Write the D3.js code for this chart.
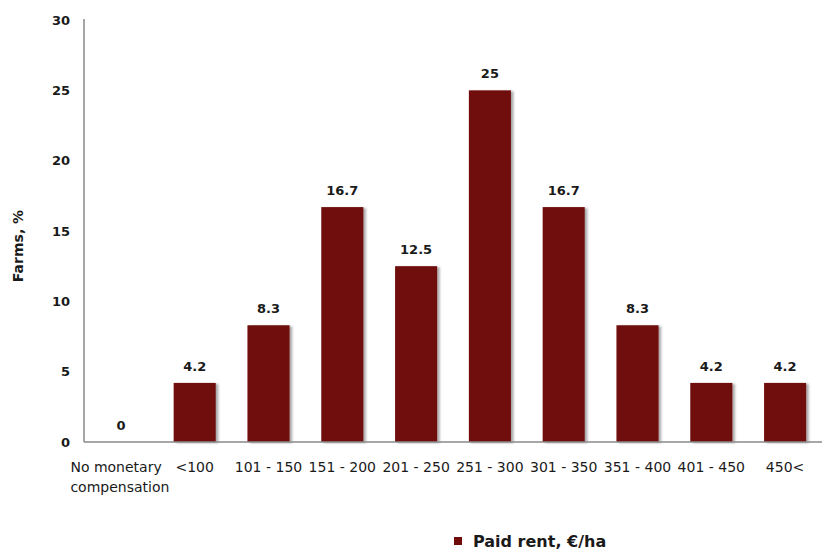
<!DOCTYPE html>
<html>
<head>
<meta charset="utf-8">
<script src="https://cdn.jsdelivr.net/npm/d3@7"></script>
<style>
  html, body { margin: 0; padding: 0; background: #fff; }
  svg { display: block; }
  text { font-family: "DejaVu Sans", Verdana, sans-serif; fill: #1a1a1a; }
</style>
</head>
<body>
<svg id="chart" width="824" height="553"></svg>
<script>
// Share of farms by rent paid per hectare
const categories = ["No monetary\ncompensation", "<100", "101 - 150", "151 - 200", "201 - 250",
                    "251 - 300", "301 - 350", "351 - 400", "401 - 450", "450<"];
const values = [0, 4.2, 8.3, 16.7, 12.5, 25, 16.7, 8.3, 4.2, 4.2];
const valueLabels = ["0", "4.2", "8.3", "16.7", "12.5", "25", "16.7", "8.3", "4.2", "4.2"];
const yTicks = [0, 5, 10, 15, 20, 25, 30];
const seriesName = "Paid rent, €/ha";
const yTitle = "Farms, %";

const svg = d3.select("#chart");
const plotLeft = 84, plotRight = 822, plotTop = 20, plotBottom = 442;
const barColor = "#700b0b";
const axisColor = "#8a8a8a";

const x = d3.scaleBand().domain(d3.range(categories.length)).range([plotLeft, plotRight]).paddingInner(0.43).paddingOuter(0.215);
const y = d3.scaleLinear().domain([0, 30]).range([plotBottom, plotTop]);

// soft drop shadow for the bars
const defs = svg.append("defs");
const f = defs.append("filter").attr("id", "shadow").attr("x", "-20%").attr("y", "-10%").attr("width", "150%").attr("height", "130%");
f.append("feDropShadow").attr("dx", 2.5).attr("dy", 1).attr("stdDeviation", 1.2)
  .attr("flood-color", "#000").attr("flood-opacity", 0.35);

// bars
svg.append("g").selectAll("rect").data(values).join("rect")
  .attr("x", (d, i) => x(i))
  .attr("y", d => y(d))
  .attr("width", x.bandwidth())
  .attr("height", d => plotBottom - y(d))
  .attr("fill", barColor)
  .attr("filter", d => d > 0 ? "url(#shadow)" : null);

// value labels
svg.append("g").selectAll("text").data(values).join("text")
  .attr("x", (d, i) => x(i) + x.bandwidth() / 2)
  .attr("y", d => y(d) - 12)
  .attr("text-anchor", "middle")
  .attr("font-size", 13).attr("font-weight", "bold")
  .text((d, i) => valueLabels[i]);

// y axis
const yAxis = svg.append("g").attr("transform", `translate(${plotLeft},0)`)
  .call(d3.axisLeft(y).tickValues(yTicks).tickSize(0).tickPadding(14).tickFormat(d3.format("d")));
yAxis.select(".domain").attr("stroke", axisColor).attr("stroke-width", 1.5).attr("d", `M0,${plotTop - 1}V${plotBottom}`);
yAxis.selectAll("text").attr("font-size", 13).attr("font-weight", "bold")
  .attr("font-family", "DejaVu Sans, sans-serif").attr("fill", "#1a1a1a");

// x axis
const xAxis = svg.append("g").attr("transform", `translate(0,${plotBottom})`)
  .call(d3.axisBottom(x).tickSize(0).tickFormat(""));
xAxis.select(".domain").attr("stroke", axisColor).attr("stroke-width", 1.5).attr("d", `M${plotLeft},0H${plotRight}`);

// category labels (multi-line ones are left-aligned as a block)
const xl = svg.append("g");
categories.forEach((c, i) => {
  const lines = c.split("\n");
  const cx = x(i) + x.bandwidth() / 2;
  const t = xl.append("text").attr("font-size", 14).attr("y", 472);
  lines.forEach((l, k) => t.append("tspan").attr("x", 0).attr("dy", k ? 20 : 0).text(l));
  if (lines.length > 1) {
    const w = t.node().getBBox().width;
    t.attr("text-anchor", "start");
    t.selectAll("tspan").attr("x", cx - w / 2 - 1);
  } else {
    t.attr("text-anchor", "middle");
    t.selectAll("tspan").attr("x", cx);
  }
});

// y axis title
svg.append("text")
  .attr("transform", `translate(23,${(plotTop + plotBottom) / 2 + 15}) rotate(-90)`)
  .attr("text-anchor", "middle")
  .attr("font-size", 14).attr("font-weight", "bold")
  .text(yTitle);

// legend
const lg = svg.append("g").attr("transform", "translate(454,541)");
lg.append("rect").attr("x", 0).attr("y", -4).attr("width", 8).attr("height", 8).attr("fill", barColor);
lg.append("text").attr("x", 19).attr("y", 6).attr("font-size", 16).attr("font-weight", "bold").text(seriesName);
</script>
</body>
</html>
